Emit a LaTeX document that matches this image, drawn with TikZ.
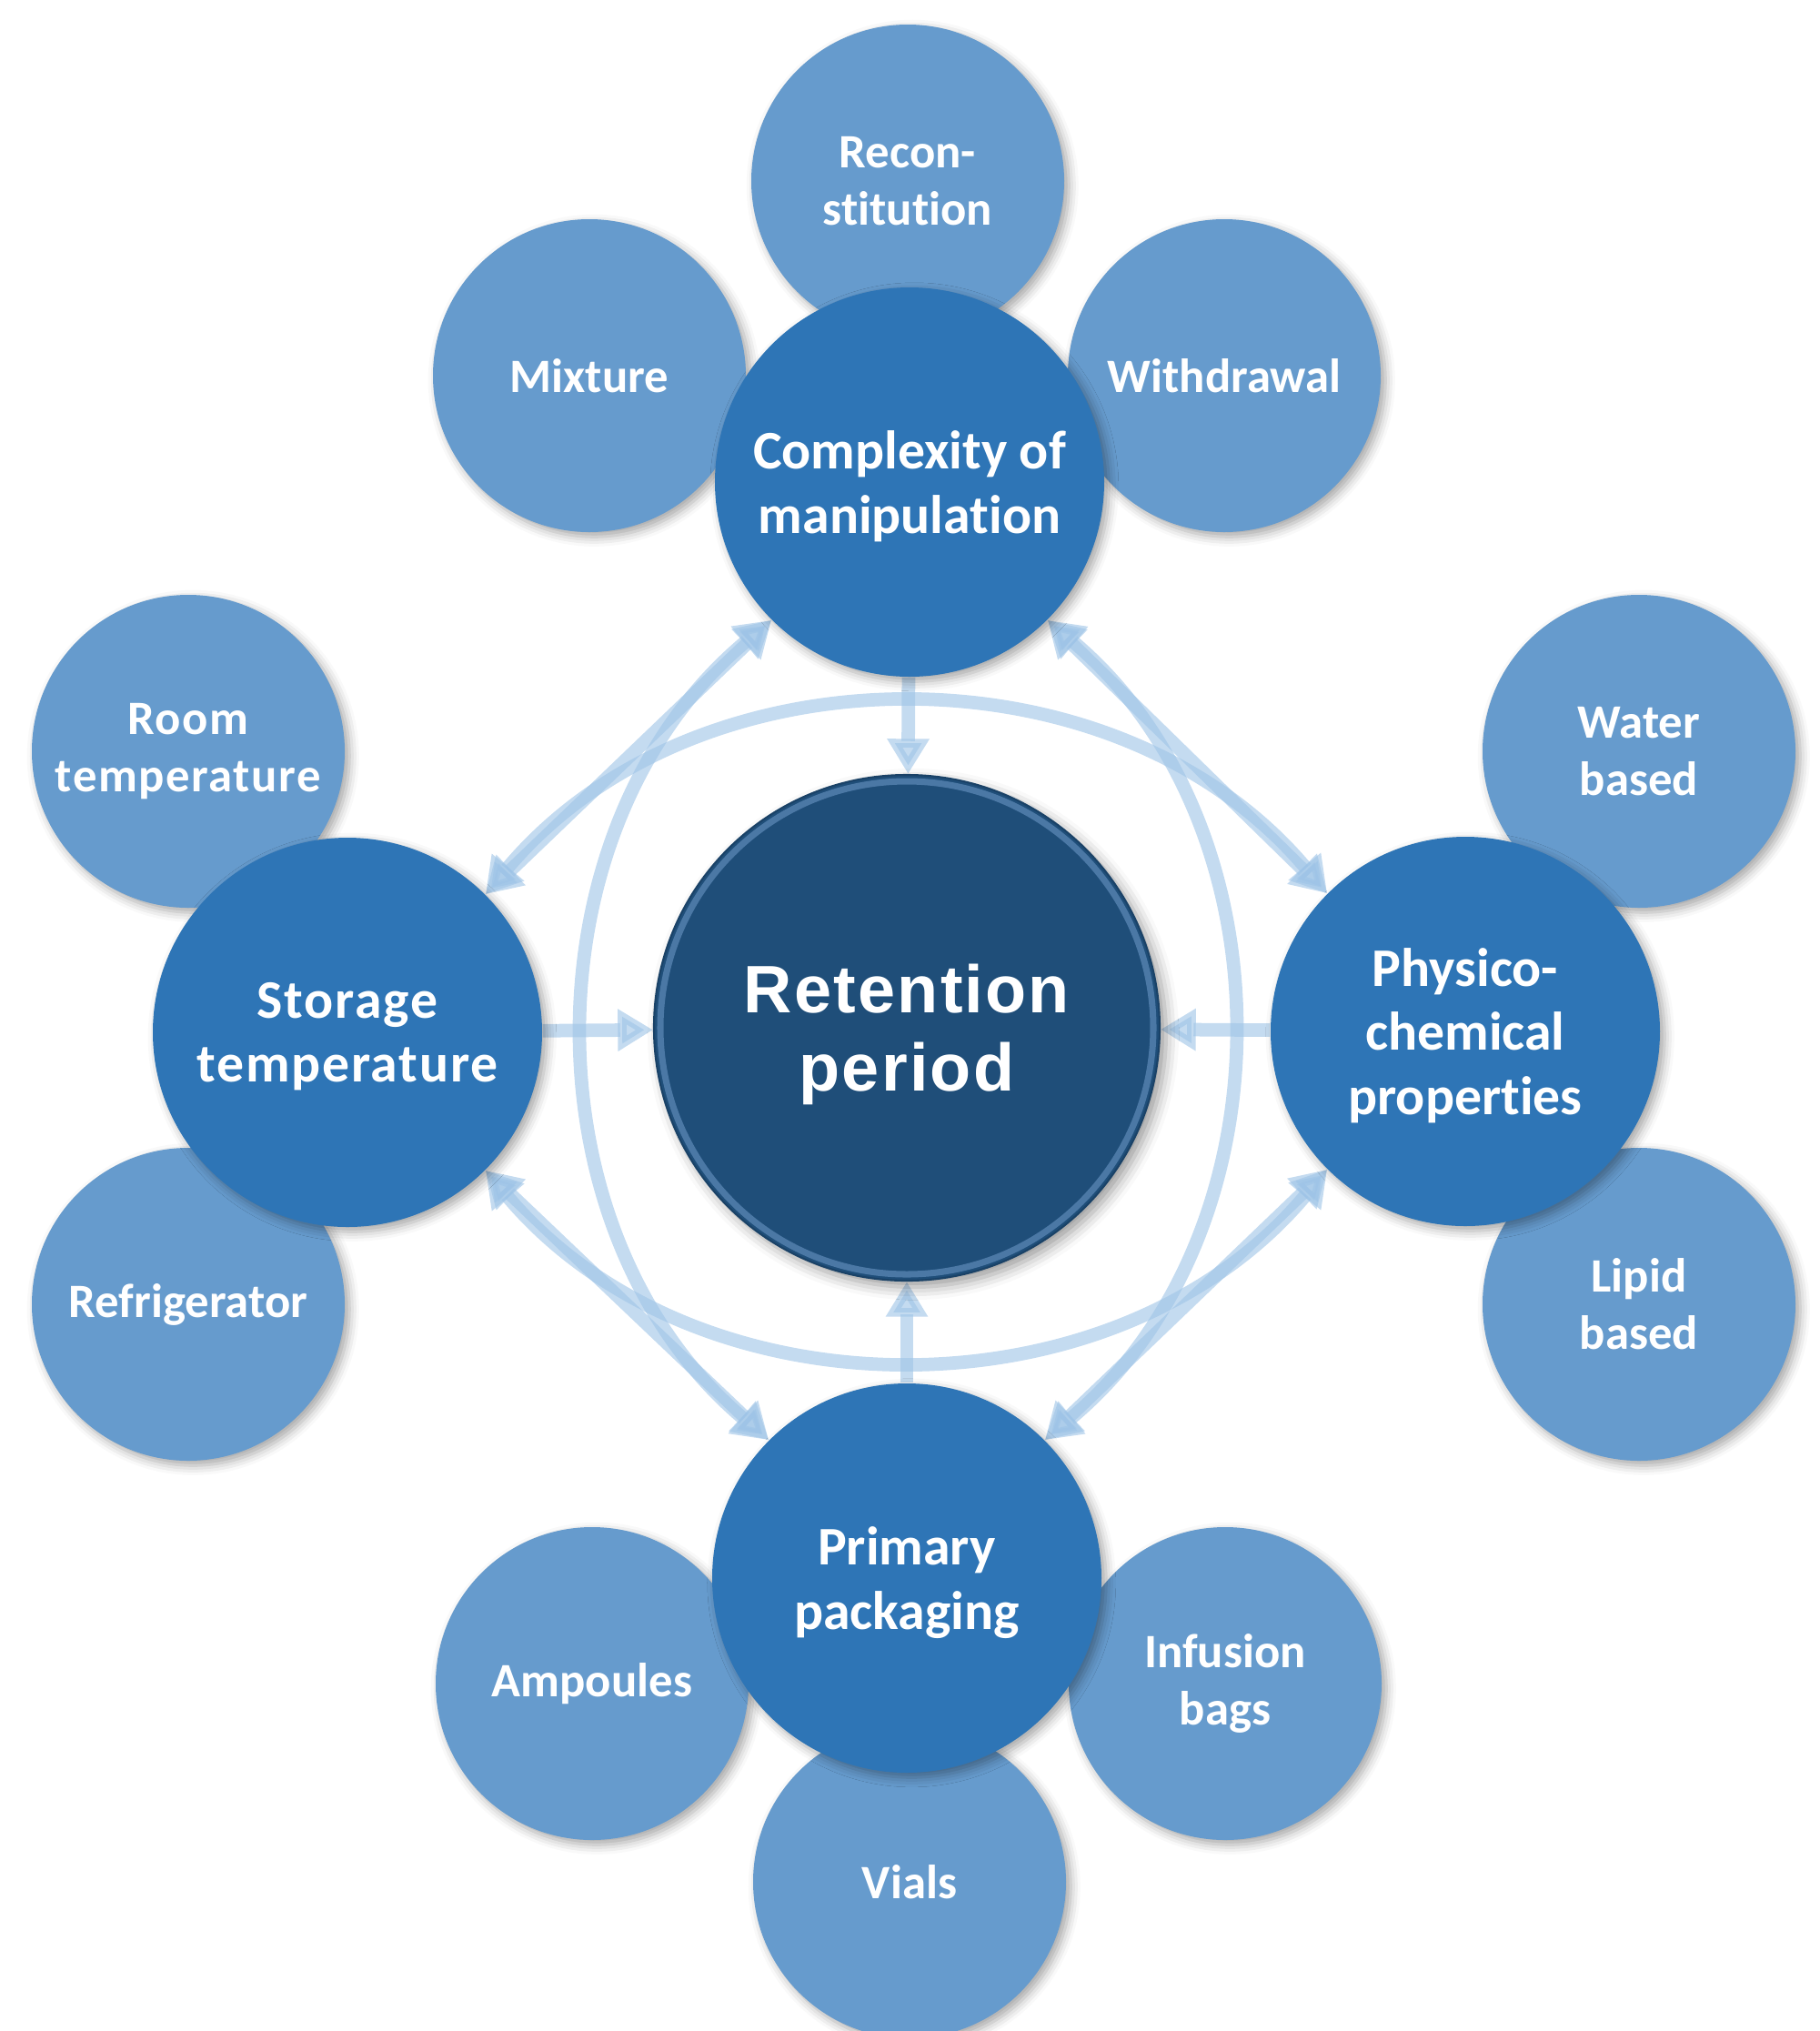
\documentclass[tikz,border=0pt]{standalone}
\usepackage{fontspec}
\setmainfont[Ligatures=NoCommon]{Carlito}
\newfontfamily\wideCarlito[Ligatures=NoCommon,LetterSpace=3]{Carlito}
\newfontfamily\coreFont[LetterSpace=3]{Liberation Sans}
\usepackage{tikz}
\usetikzlibrary{arrows.meta,positioning,backgrounds,shadows.blur}
\definecolor{RetDark}{HTML}{1F4E79}
\definecolor{RetRim}{HTML}{8DB8E8}
\definecolor{HubBlue}{HTML}{2E75B6}
\definecolor{LeafBlue}{HTML}{669BCD}
\definecolor{LinkBlue}{HTML}{9DC3E6}

\begin{document}
\begin{tikzpicture}[
    leaf/.style={
      circle,
      fill=LeafBlue,
      minimum size=3.44cm,
      inner sep=0pt,
      text=white,
      align=center,
      font=\fontsize{15}{18}\selectfont\bfseries,
      blur shadow={shadow xshift=1.5pt,shadow yshift=-1.5pt,
                   shadow blur radius=3pt,shadow opacity=35}
    },
    hub/.style={
      leaf,
      fill=HubBlue,
      minimum size=4.28cm,
      text depth=0pt,
      font=\fontsize{17}{20}\selectfont\bfseries
    },
    core/.style={
      circle,
      fill=RetDark,
      draw=RetDark!85!black,
      line width=0.6pt,
      minimum size=5.56cm,
      inner sep=0pt,
      text=white,
      text depth=0pt,
      align=center,
      font=\coreFont\fontsize{21}{24.5}\selectfont\bfseries,
      blur shadow={shadow xshift=2pt,shadow yshift=-2pt,
                   shadow blur radius=4pt,shadow opacity=40},
      path picture={
        \draw[RetRim,line width=2pt,opacity=.4]
          (path picture bounding box.center) circle (2.71);
      }
    },
    link/.style={
      line width=4.2pt,
      draw=LinkBlue,
      opacity=.6,
      {Triangle[length=11pt,width=12.5pt]}-{Triangle[length=11pt,width=12.5pt]}
    },
    spoke/.style={
      link,
      -{Triangle[length=11pt,width=12.5pt]}
    }
  ]

  \useasboundingbox (0,0) rectangle (20.01,-22.33);

  % leaves of manipulation
  \node[leaf] (recon) at (9.98,-1.99) {Recon-\\stitution};
  \node[leaf] (mix) at (6.48,-4.13) {Mixture};
  \node[leaf] (withdraw) at (13.46,-4.13) {Withdrawal};

  % leaves of storage
  \node[leaf,font=\wideCarlito\fontsize{15}{18}\selectfont\bfseries] (room)
    at (2.07,-8.26) {Room\\temperature};
  \node[leaf] (fridge) at (2.07,-14.34) {Refrigerator};

  % leaves of properties
  \node[leaf] (water) at (18.02,-8.26) {Water\\based};
  \node[leaf] (lipid) at (18.02,-14.34) {Lipid\\based};

  % leaves of packaging
  \node[leaf] (vials) at (10.00,-20.69) {Vials};
  \node[leaf] (ampoules) at (6.51,-18.51) {Ampoules};
  \node[leaf] (bags) at (13.47,-18.51) {Infusion\\bags};

  % hubs
  \node[hub] (manip) at (10.00,-5.30) {Complexity of\\manipulation};
  \node[hub,font=\wideCarlito\fontsize{17}{20}\selectfont\bfseries] (storage)
    at (3.82,-11.35) {Storage\\temperature};
  \node[hub] (physchem) at (16.11,-11.34) {Physico-\\chemical\\properties};
  \node[hub] (packing) at (9.97,-17.35) {Primary\\packaging};

  % Retention period
  \node[core] (ret) at (9.97,-11.30) {Retention\\period};

  % links
  \begin{scope}[on background layer]
    \draw[spoke] (manip) -- (ret);
    \draw[spoke] (storage) -- (ret);
    \draw[spoke] (physchem) -- (ret);
    \draw[spoke] (packing) -- (ret);

    \draw[link] (manip.225) -- (storage.45);
    \draw[link] (manip.315) -- (physchem.135);
    \draw[link] (storage.315) -- (packing.135);
    \draw[link] (physchem.225) -- (packing.45);

    \draw[link] (storage.45) to[bend left=50] (physchem.135);
    \draw[link] (storage.315) to[bend right=50] (physchem.225);
    \draw[link] (manip.225) to[bend right=50] (packing.135);
    \draw[link] (manip.315) to[bend left=50] (packing.45);
  \end{scope}

\end{tikzpicture}
\end{document}
